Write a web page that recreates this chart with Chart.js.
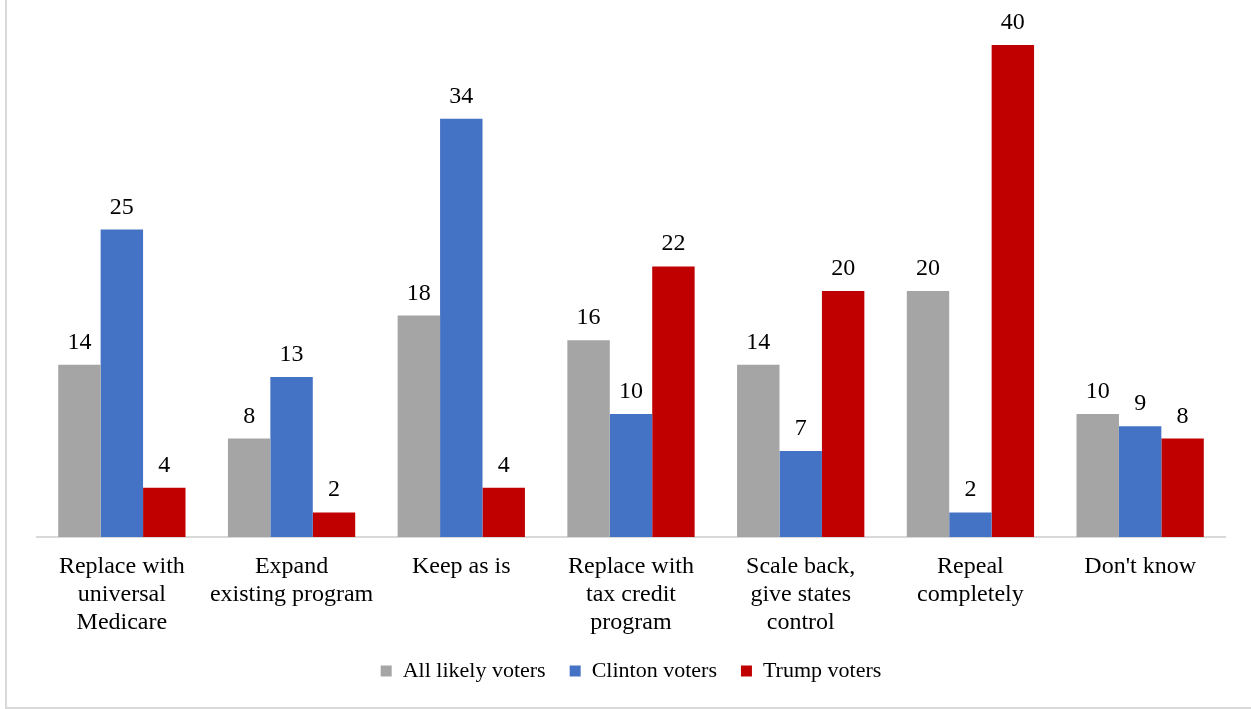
<!DOCTYPE html>
<html>
<head>
<meta charset="utf-8">
<script src="https://cdn.jsdelivr.net/npm/chart.js@4"></script>
<style>
  html, body { margin: 0; padding: 0; background: #fff; overflow: hidden; }
  #wrap { position: relative; width: 1251px; height: 709px; overflow: hidden; }
  #frame { position: absolute; left: 5px; top: -3px; width: 1300px; height: 712px; border: 2px solid #d9d9d9; box-sizing: border-box; }
  canvas { position: absolute; left: 0; top: 0; }
</style>
</head>
<body>
<div id="wrap">
  <div id="frame"></div>
  <canvas id="myChart" width="1251" height="709"></canvas>
</div>
<script>
const categories = [
  ['Replace with', 'universal', 'Medicare'],
  ['Expand', 'existing program'],
  ['Keep as is'],
  ['Replace with', 'tax credit', 'program'],
  ['Scale back,', 'give states', 'control'],
  ['Repeal', 'completely'],
  ["Don't know"]
]
const allVoters = [14, 8, 18, 16, 14, 20, 10]
const clintonVoters = [25, 13, 34, 10, 7, 2, 9]
const trumpVoters = [4, 2, 4, 22, 20, 40, 8]

const serif = "'Liberation Serif', 'Times New Roman', serif"

// draws the number above each bar
const barLabels = {
  id: 'barLabels',
  afterDatasetsDraw(chart) {
    const ctx = chart.ctx
    ctx.save()
    ctx.font = '24px ' + serif
    ctx.fillStyle = '#000'
    ctx.textAlign = 'center'
    ctx.textBaseline = 'alphabetic'
    chart.data.datasets.forEach((ds, i) => {
      chart.getDatasetMeta(i).data.forEach((bar, j) => {
        ctx.fillText(ds.data[j], bar.x, bar.y - 16)
      })
    })
    ctx.restore()
  }
}

const ctx = document.getElementById('myChart').getContext('2d')
new Chart(ctx, {
  type: 'bar',
  data: {
    labels: categories,
    datasets: [
      { label: 'All likely voters', data: allVoters, backgroundColor: '#a5a5a5' },
      { label: 'Clinton voters', data: clintonVoters, backgroundColor: '#4472c4' },
      { label: 'Trump voters', data: trumpVoters, backgroundColor: '#c00000' }
    ]
  },
  options: {
    responsive: false,
    animation: false,
    devicePixelRatio: 1,
    categoryPercentage: 0.75,
    barPercentage: 1,
    layout: { padding: { left: 37, right: 26, top: 45, bottom: 17 } },
    scales: {
      x: {
        afterFit: (scale) => { scale.height = 99 },
        grid: { display: false },
        border: { color: '#d9d9d9', width: 2 },
        ticks: { color: '#000', padding: 8, maxRotation: 0, autoSkip: false, font: { family: serif, size: 24, lineHeight: 28 / 24 } }
      },
      y: { display: false, min: 0, max: 40 }
    },
    plugins: {
      legend: {
        position: 'bottom',
        labels: { color: '#000', boxWidth: 11, boxHeight: 11, padding: 24, font: { family: serif, size: 22 } }
      },
      tooltip: { enabled: false }
    }
  },
  plugins: [barLabels]
})
</script>
</body>
</html>
